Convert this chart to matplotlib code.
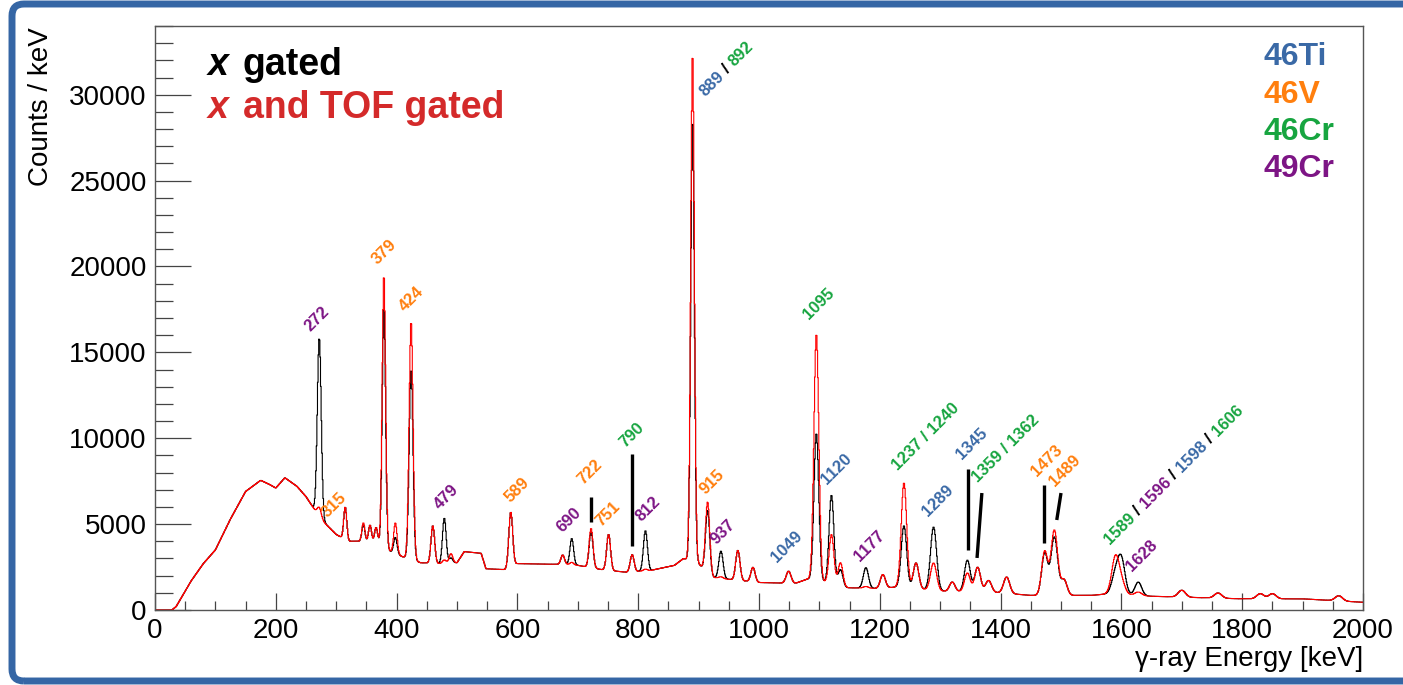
import numpy as np
import matplotlib
matplotlib.use("Agg")
import matplotlib.pyplot as plt
from matplotlib.patches import FancyBboxPatch
from matplotlib.transforms import IdentityTransform

plt.rcParams['font.family'] = ['Liberation Sans', 'DejaVu Sans']

TI = '#3a69a6'
V = '#ff7f0e'
CR = '#17a540'
PU = '#7d1585'

# continuum under the peaks (keV, counts/keV)
bg_energy = [0, 28, 35, 60, 80, 100, 125, 150, 175, 190, 200, 215, 235, 250, 265, 280, 300, 320,
             340, 370, 390, 410, 440, 470, 500, 512, 540, 548, 580, 600, 680, 700, 740, 780, 820,
             860, 875, 900, 920, 960, 1000, 1060, 1080, 1110, 1140, 1200, 1230, 1300, 1400, 1450,
             1550, 1580, 1650, 1800, 1900, 2000]
bg_counts = [0, 0, 200, 1700, 2700, 3500, 5300, 6900, 7550, 7300, 7100, 7700, 7200, 6600, 5800,
             5100, 4400, 4000, 4000, 3900, 3400, 3100, 2750, 2700, 2750, 3400, 3300, 2400, 2350,
             2700, 2650, 2600, 2350, 2200, 2300, 2600, 3000, 2700, 1900, 1750, 1600, 1550, 1800,
             1600, 1300, 1250, 1350, 1100, 1000, 850, 850, 950, 800, 650, 650, 450]

# peaks: energy, sigma, amplitude above continuum for each gate
peak_energy = [272, 315, 345, 356, 366, 379, 398, 424, 460, 479, 490, 589, 675, 690, 722, 751,
               790, 812, 890, 915, 937, 965, 990, 1049, 1095, 1120, 1135, 1177, 1205, 1240, 1260,
               1289, 1320, 1345, 1362, 1380, 1410, 1473, 1489, 1505, 1590, 1600, 1628, 1700, 1760,
               1830, 1850, 1960]
peak_sigma = [3.2, 2.5, 2.5, 2.5, 2.5, 2.8, 2.8, 3.2, 3.0, 3.0, 3.0, 3.2, 3.0, 3.0, 3.2, 3.2,
              3.2, 3.3, 3.0, 3.5, 3.5, 3.5, 3.5, 4.0, 4.0, 4.0, 4.0, 4.2, 4.2, 4.5, 4.5,
              5.0, 4.5, 4.8, 4.8, 5.0, 5.0, 5.0, 5.5, 5.0, 6.0, 6.0, 5.5, 6.0, 6.0,
              6.0, 6.0, 6.0]
peak_black = [10400, 1900, 1000, 1000, 900, 14000, 950, 11100, 2200, 2650, 300, 3200, 550, 1550,
              2100, 2100, 1000, 2350, 25800, 3700, 1600, 1750, 850, 700, 8600, 5200, 1000, 1200,
              800, 3600, 1500, 3700, 550, 1850, 1450, 700, 950, 2450, 3400, 900, 1100, 2000, 780,
              400, 300, 300, 300, 300]
peak_red = [500, 1900, 1100, 1000, 900, 15900, 1800, 13900, 2200, 200, 550, 3200, 550, 150,
            2300, 2100, 1000, 100, 29700, 4200, 100, 1750, 850, 700, 14400, 2900, 1400, 100,
            800, 6100, 1500, 1600, 550, 1100, 1450, 700, 950, 2550, 3800, 900, 2100, 700, 200,
            400, 300, 300, 300, 300]

# peak labels: anchor (keV, counts) and coloured pieces
label_energy = [258, 285, 368, 414, 472, 588, 675, 709, 738, 778, 806, 911, 911, 930, 1030, 1083,
                1112, 1167, 1230, 1280, 1336, 1363, 1460, 1490, 1581, 1617]
label_counts = [16190, 5360, 20100, 17360, 5820, 6230, 4480, 7280, 4830, 9430, 5130, 29880, 6700,
                3790, 2740, 16900, 7280, 2800, 8100, 5420, 8740, 7400, 7750, 7160, 3790, 2210]
label_parts = [
    [('272', PU)], [('315', V)], [('379', V)], [('424', V)], [('479', PU)], [('589', V)],
    [('690', PU)], [('722', V)], [('751', V)], [('790', CR)], [('812', PU)],
    [('889', TI), (' / ', 'k'), ('892', CR)], [('915', V)], [('937', PU)], [('1049', TI)],
    [('1095', CR)], [('1120', TI)], [('1177', PU)], [('1237 / 1240', CR)], [('1289', TI)],
    [('1345', TI)], [('1359 / 1362', CR)], [('1473', V)], [('1489', V)],
    [('1589', CR), (' / ', 'k'), ('1596', PU), (' / ', 'k'), ('1598', TI), (' / ', 'k'), ('1606', CR)],
    [('1628', PU)],
]

# black pointer sticks
stick_e0 = [722, 790, 1346, 1361, 1472, 1493]
stick_e1 = [722, 790, 1346, 1369, 1472, 1500]
stick_c0 = [5100, 3700, 3500, 3030, 3900, 5240]
stick_c1 = [6600, 9100, 8200, 6810, 7280, 6810]

isotopes = ['46Ti', '46V', '46Cr', '49Cr']
iso_colors = [TI, V, CR, PU]

energy = np.arange(0.5, 2000, 1.0)
base = np.interp(energy, bg_energy, bg_counts)


def spectrum(amps):
    y = base.copy()
    for c, s, a in zip(peak_energy, peak_sigma, amps):
        y += a * np.exp(-0.5 * ((energy - c) / s) ** 2)
    return y


black = spectrum(peak_black)
red = spectrum(peak_red)

fig = plt.figure(figsize=(14.03, 6.85), dpi=100)
ax = fig.add_axes([155 / 1403, 75 / 685, 1208 / 1403, 584 / 685])

ax.plot(energy, black, color='black', lw=0.8, drawstyle='steps-mid')
ax.plot(energy, red, color='red', lw=0.8, drawstyle='steps-mid')

for e0, e1, c0, c1 in zip(stick_e0, stick_e1, stick_c0, stick_c1):
    ax.plot([e0, e1], [c0, c1], color='black', lw=2.4, solid_capstyle='butt')

ax.set_xlim(0, 2000)
ax.set_ylim(0, 34000)
ax.set_xticks(np.arange(0, 2001, 200))
ax.set_xticks(np.arange(0, 2001, 50), minor=True)
ax.set_yticks(np.arange(0, 30001, 5000))
ax.set_yticks(np.arange(0, 34001, 1000), minor=True)
ax.tick_params(axis='both', which='both', direction='in', color='#444444', width=0.9,
               labelsize=20)
ax.tick_params(axis='y', which='major', length=26, pad=6)
ax.tick_params(axis='y', which='minor', length=13)
ax.tick_params(axis='x', which='major', length=12, pad=6)
ax.tick_params(axis='x', which='minor', length=6.5)
for sp in ax.spines.values():
    sp.set_color('#555555')
    sp.set_linewidth(1.0)

fig.text(41 / 1403, 1 - 27 / 685, 'Counts / keV', rotation=90, ha='center', va='top', fontsize=20)
fig.text(1363 / 1403, 1 - 659 / 685, 'γ-ray Energy [keV]', ha='right', va='center', fontsize=20)

# gate legend
ax.text(0.0439, 0.916, 'x', transform=ax.transAxes, fontsize=27, weight='bold', style='italic')
ax.text(0.0728, 0.916, 'gated', transform=ax.transAxes, fontsize=27, weight='bold')
ax.text(0.0439, 0.842, 'x', transform=ax.transAxes, fontsize=27, weight='bold', style='italic',
        color='#d42a2a')
ax.text(0.0728, 0.842, 'and TOF gated', transform=ax.transAxes, fontsize=27, weight='bold',
        color='#d42a2a')

iso_y = [0.933, 0.868, 0.805, 0.741]
for name, col, yy in zip(isotopes, iso_colors, iso_y):
    ax.text(0.918, yy, name, transform=ax.transAxes, fontsize=23, weight='bold', color=col,
            va='baseline')

# rotated, multi-coloured peak labels
fig.canvas.draw()
renderer = fig.canvas.get_renderer()
LFS = 12


def text_width(s):
    t = ax.text(0, 0, s + '|', fontsize=LFS, weight='bold')
    w = t.get_window_extent(renderer).width
    t.set_text('|')
    w -= t.get_window_extent(renderer).width
    t.remove()
    return w


cs = np.cos(np.radians(45))
for e, c, parts in zip(label_energy, label_counts, label_parts):
    off = 0.0
    for txt, col in parts:
        ax.annotate(txt, xy=(e, c), xytext=(off * cs, off * cs), textcoords='offset pixels',
                    rotation=45, rotation_mode='anchor', ha='left', va='baseline',
                    fontsize=LFS, weight='bold', color=col, annotation_clip=False)
        off += text_width(txt)

frame = FancyBboxPatch((12, 4), 1500, 677, boxstyle='round,pad=0,rounding_size=12',
                       transform=IdentityTransform(), fill=False, ec='#3566a5', lw=5)
fig.add_artist(frame)

fig.savefig('out.png', dpi=100)
